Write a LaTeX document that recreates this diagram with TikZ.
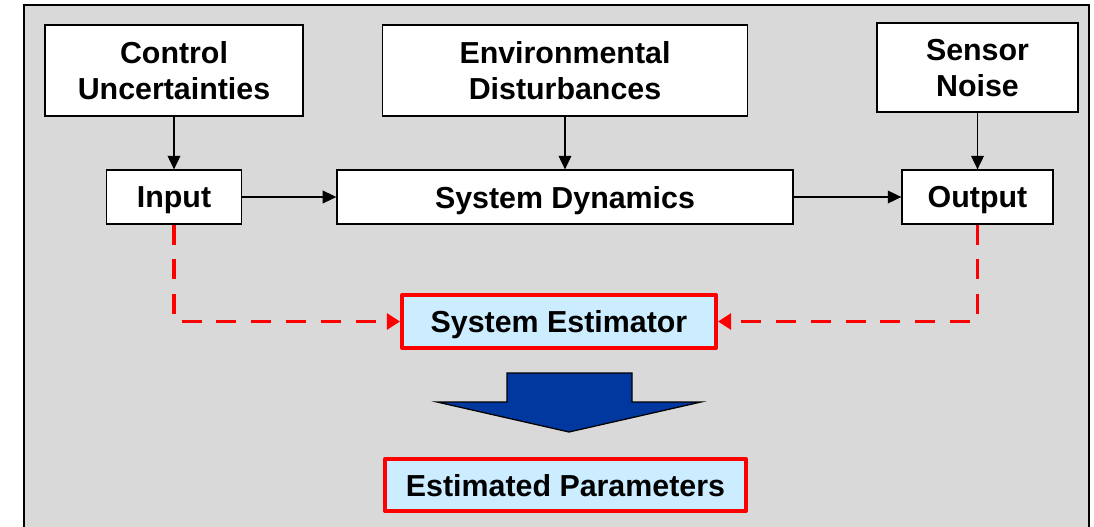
\documentclass[tikz,border=0pt]{standalone}
\usepackage{fontspec}
\setmainfont{Liberation Sans}
\usepackage{tikz}
\usetikzlibrary{arrows.meta,positioning}
\definecolor{fondo}{RGB}{217,217,217}
\definecolor{celeste}{RGB}{204,236,255}
\definecolor{azul}{RGB}{0,56,160}
\tikzset{
  caja/.style={draw=black,fill=white,line width=0.9pt,inner sep=0pt,align=center,
    text depth=0pt,font=\fontsize{21.6}{25.6}\selectfont\bfseries},
  estim/.style={caja,draw=red,fill=celeste,line width=2.8pt,line join=round},
  flujo/.style={-{Triangle[length=0.34cm,width=0.32cm]},line width=0.9pt},
  retro/.style={-{Triangle[length=0.33cm,width=0.4cm]},red,line width=2.8pt,
    dash pattern=on 0.5cm off 0.37cm}
}

\begin{document}
\begin{tikzpicture}[x=0.025cm,y=-0.025cm]
\useasboundingbox (0,0) rectangle (1094,527);
% fondo
\fill[fondo] (24,5) rectangle (1089,527);
\draw[line width=0.9pt] (24,527) -- (24,5) -- (1089,5) -- (1089,527);
% perturbaciones
\node[caja,minimum width=6.45cm,minimum height=2.275cm] (ctrl) at (174,70.5) {Control\\Uncertainties};
\node[caja,minimum width=9.125cm,minimum height=2.275cm] (env) at (565,70.5) {Environmental\\Disturbances};
\node[caja,minimum width=5.025cm,minimum height=2.225cm] (noise) at (977.5,67.5) {Sensor\\Noise};
% sistema
\node[caja,minimum width=3.375cm,minimum height=1.35cm] (input) at (174,197) {Input};
\node[caja,minimum width=11.4cm,minimum height=1.35cm] (sysdyn) at (565,197) {System Dynamics};
\node[caja,minimum width=3.775cm,minimum height=1.35cm] (output) at (977.5,197) {Output};
\draw[flujo] (ctrl.south) -- (input.north);
\draw[flujo] (env.south) -- (sysdyn.north);
\draw[flujo] (noise.south) -- (output.north);
\draw[flujo] (input) -- (sysdyn);
\draw[flujo] (sysdyn) -- (output);
% estimador
\node[estim,minimum width=7.85cm,minimum height=1.325cm] (est) at (559,321.5) {System Estimator};
\draw[retro] (input.south) |- (est.west);
\draw[retro] (output.south) |- (est.east);
% flecha grande
\draw[fill=azul,line width=0.9pt,line join=miter]
  (507,373) -- (632,373) -- (632,402) -- (701,402) -- (569,432) -- (437,402) -- (507,402) -- cycle;
\node[estim,minimum width=9.025cm,minimum height=1.3cm] (param) at (565.5,485) {Estimated Parameters};
\end{tikzpicture}
\end{document}
